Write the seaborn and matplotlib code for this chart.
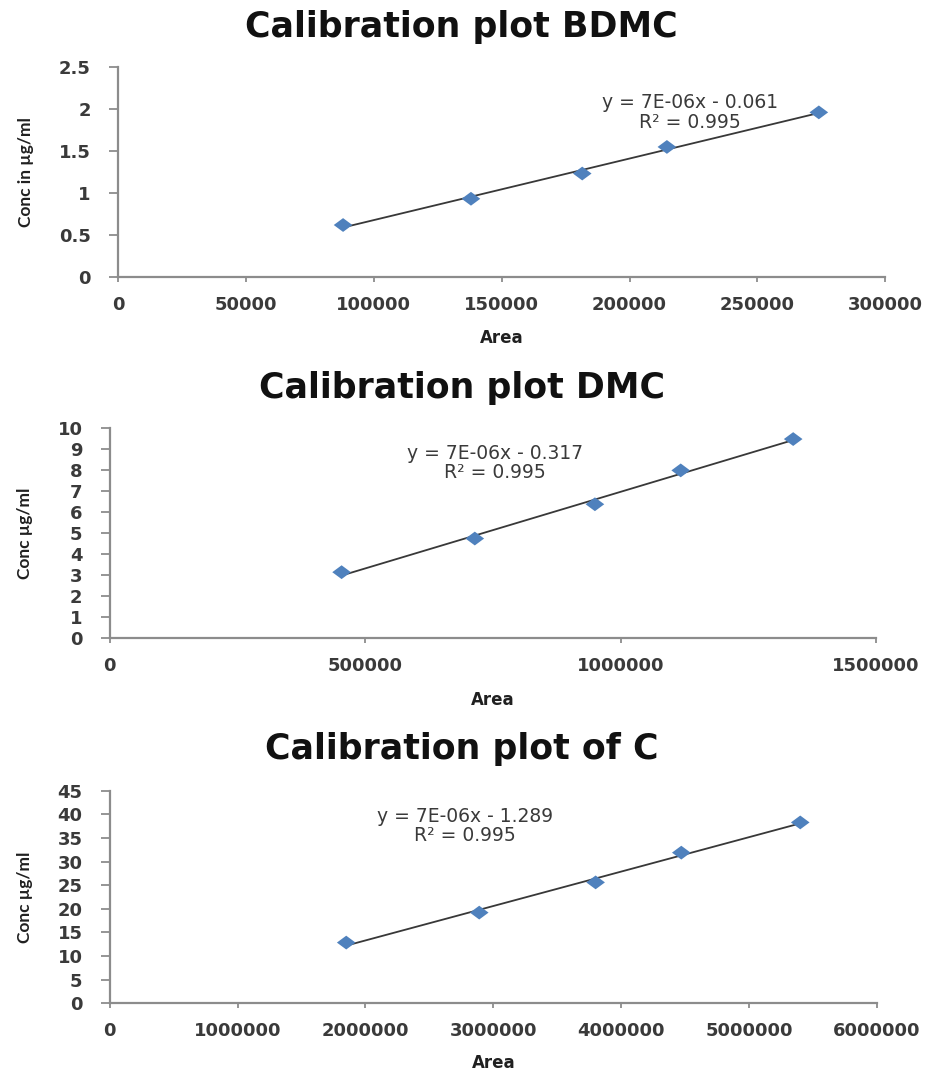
import numpy as np
import pandas as pd
import matplotlib
matplotlib.use('Agg')
import matplotlib.pyplot as plt
from matplotlib.ticker import FuncFormatter
import seaborn as sns

# calibration data
bdmc_area = [88000, 138000, 181500, 214600, 274000]
bdmc_conc = [0.616, 0.928, 1.228, 1.544, 1.955]

dmc_area = [454000, 714700, 949800, 1117700, 1337800]
dmc_conc = [3.15, 4.75, 6.38, 7.99, 9.48]

c_area = [1850000, 2890000, 3800000, 4470000, 5400000]
c_conc = [12.85, 19.2, 25.6, 31.9, 38.3]

titles = ['Calibration plot BDMC', 'Calibration plot DMC', 'Calibration plot of C']
ylabels = ['Conc in µg/ml', 'Conc µg/ml', 'Conc µg/ml']
equations = ['y = 7E-06x - 0.061', 'y = 7E-06x - 0.317', 'y = 7E-06x - 1.289']
r2_labels = ['R² = 0.995', 'R² = 0.995', 'R² = 0.995']
x_max = [300000, 1500000, 6000000]
x_step = [50000, 500000, 1000000]
y_max = [2.5, 10, 45]
y_step = [0.5, 1, 5]

sns.set_style('white')
plt.rcParams['font.family'] = ['DejaVu Sans']

fig = plt.figure(figsize=(9.29, 10.73), dpi=100)

boxes = [[0.127, 0.742, 0.826, 0.196],
         [0.118, 0.405, 0.825, 0.196],
         [0.118, 0.065, 0.826, 0.198]]
title_y = [0.975, 0.638, 0.302]
eq_pos = [(0.745, 0.83, 0.735), (0.503, 0.88, 0.79), (0.463, 0.877, 0.79)]
area_y = [-0.25, -0.25, -0.24]

datasets = [(bdmc_area, bdmc_conc), (dmc_area, dmc_conc), (c_area, c_conc)]
grey = '#8c8c8c'
txt = '#3a3a3a'
wide_diamond = [(-1.35, 0), (0, 1), (1.35, 0), (0, -1)]

for i, (xs, ys) in enumerate(datasets):
    df = pd.DataFrame({'Area': xs, 'Conc': ys})
    ax = fig.add_axes(boxes[i])
    sns.regplot(data=df, x='Area', y='Conc', ax=ax, ci=None, scatter=False,
                line_kws={'color': '#383838', 'lw': 1.3})
    sns.scatterplot(data=df, x='Area', y='Conc', ax=ax, marker=wide_diamond, s=180,
                    color='#4F81BD', edgecolor='none', zorder=5)
    ax.set_xlim(0, x_max[i])
    ax.set_ylim(0, y_max[i])
    ax.set_xticks(np.arange(0, x_max[i] + 1, x_step[i]))
    ax.set_yticks(np.arange(0, y_max[i] + y_step[i] / 2, y_step[i]))
    ax.xaxis.set_major_formatter(FuncFormatter(lambda v, p: '{:.0f}'.format(v)))
    ax.yaxis.set_major_formatter(FuncFormatter(lambda v, p: '{:g}'.format(v)))
    for s in ['top', 'right']:
        ax.spines[s].set_visible(False)
    for s in ['left', 'bottom']:
        ax.spines[s].set_color(grey)
        ax.spines[s].set_linewidth(1.6)
    ax.tick_params(axis='both', direction='out', width=1.3, color=grey,
                   labelsize=13, labelcolor=txt, left=True, bottom=True)
    ax.tick_params(axis='y', length=6.5, pad=13)
    ax.tick_params(axis='x', length=3.5, pad=10)
    for lab in ax.get_xticklabels() + ax.get_yticklabels():
        lab.set_fontweight('bold')
    ax.set_xlabel('Area', fontsize=12, fontweight='bold', color='#202020')
    ax.xaxis.set_label_coords(0.5, area_y[i])
    ax.set_ylabel(ylabels[i], fontsize=12.5, fontweight='bold', color='#202020',
                  family=['Lato', 'DejaVu Sans'])
    ax.yaxis.set_label_coords(-0.11 if i == 0 else -0.1, 0.5)
    ex, ey, ry = eq_pos[i]
    ax.text(ex, ey, equations[i], transform=ax.transAxes, ha='center', va='center',
            fontsize=13.5, color=txt)
    ax.text(ex, ry, r2_labels[i], transform=ax.transAxes, ha='center', va='center',
            fontsize=13.5, color=txt)
    fig.text(0.497, title_y[i], titles[i], ha='center', va='center',
             fontsize=25, fontweight='bold', color='#111111')

fig.savefig('out.png', dpi=100)
